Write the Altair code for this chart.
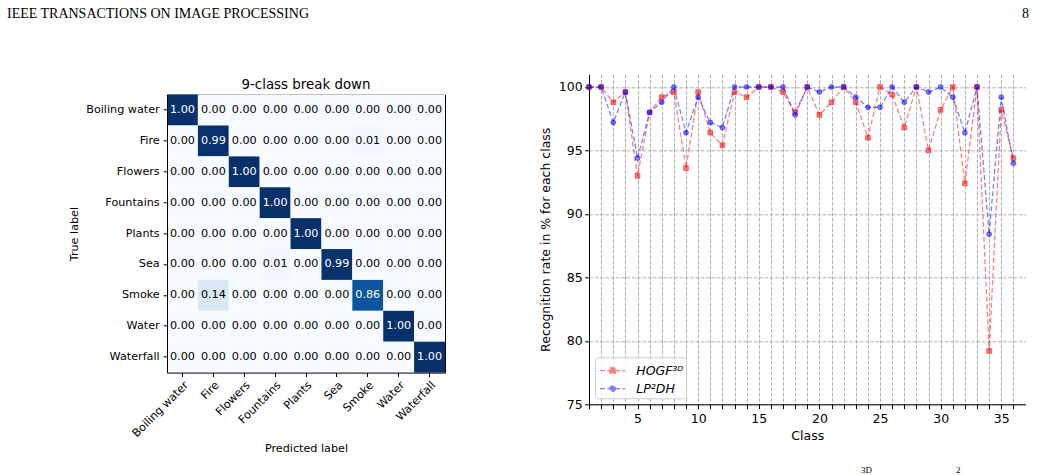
import altair as alt
import pandas as pd

# ---------------- data ----------------
classes = ["Boiling water", "Fire", "Flowers", "Fountains", "Plants",
           "Sea", "Smoke", "Water", "Waterfall"]
cm_boiling = [1.00, 0.00, 0.00, 0.00, 0.00, 0.00, 0.00, 0.00, 0.00]
cm_fire = [0.00, 0.99, 0.00, 0.00, 0.00, 0.00, 0.01, 0.00, 0.00]
cm_flowers = [0.00, 0.00, 1.00, 0.00, 0.00, 0.00, 0.00, 0.00, 0.00]
cm_fountains = [0.00, 0.00, 0.00, 1.00, 0.00, 0.00, 0.00, 0.00, 0.00]
cm_plants = [0.00, 0.00, 0.00, 0.00, 1.00, 0.00, 0.00, 0.00, 0.00]
cm_sea = [0.00, 0.00, 0.00, 0.01, 0.00, 0.99, 0.00, 0.00, 0.00]
cm_smoke = [0.00, 0.14, 0.00, 0.00, 0.00, 0.00, 0.86, 0.00, 0.00]
cm_water = [0.00, 0.00, 0.00, 0.00, 0.00, 0.00, 0.00, 1.00, 0.00]
cm_waterfall = [0.00, 0.00, 0.00, 0.00, 0.00, 0.00, 0.00, 0.00, 1.00]
cm_rows = [cm_boiling, cm_fire, cm_flowers, cm_fountains, cm_plants,
           cm_sea, cm_smoke, cm_water, cm_waterfall]

class_ids = list(range(1, 37))
hogf = [100, 100, 98.8, 99.6, 93.0, 98.0, 99.2, 99.6, 93.6, 99.6,
        96.4, 95.4, 99.6, 99.2, 100, 100, 99.6, 98.0, 100, 97.8,
        98.8, 100, 98.8, 96.0, 100, 99.4, 96.8, 100, 95.0, 98.2,
        100, 92.4, 100, 79.2, 98.2, 94.4]
lp2dh = [100, 100, 97.2, 99.6, 94.4, 98.0, 98.8, 100, 96.4, 99.2,
         97.2, 96.8, 100, 100, 100, 100, 100, 97.8, 100, 99.6,
         100, 100, 99.2, 98.4, 98.4, 100, 98.8, 100, 99.6, 100,
         99.2, 96.4, 100, 88.4, 99.2, 94.0]
series_names = ["HOGF\u00b3\u1d30", "LP\u00b2DH"]
x_ticks = list(range(1, 37))
y_ticks = [75, 80, 85, 90, 95, 100]

header_text = ["IEEE TRANSACTIONS ON IMAGE PROCESSING"]
page_number = ["8"]
heat_title = ["9-class break down"]
caption_bits = ["3D", "2"]

# ---------------- tables ----------------
cm_df = pd.DataFrame([
    {"true": classes[i], "pred": classes[j], "value": cm_rows[i][j]}
    for i in range(len(classes)) for j in range(len(classes))
])
line_df = pd.DataFrame({
    "cls": class_ids + class_ids,
    "rate": hogf + lp2dh,
    "series": [series_names[0]] * len(class_ids) + [series_names[1]] * len(class_ids),
})

FONT = "DejaVu Sans"
LS = 11.2   # left figure font size
RS = 12.5   # right figure font size

# ---------------- left: confusion matrix ----------------
heat_w = 278
heat_top = 20.3
heat_h = 298.3

xband = alt.Scale(paddingInner=0, paddingOuter=0)
yband = alt.Scale(paddingInner=0, paddingOuter=0, range=[heat_top, heat_h])

rect = alt.Chart(cm_df).mark_rect().encode(
    x=alt.X("pred:N", sort=classes, scale=xband,
            axis=alt.Axis(orient="bottom", title="Predicted label", labelAngle=-45,
                          labelAlign="right", labelBaseline="top", labelOverlap=False,
                          tickSize=3.9, labelPadding=2.5, labelFontSize=LS,
                          titleFontSize=LS, titleFontWeight="normal", titlePadding=4,
                          domainColor="black", tickColor="black", labelColor="black",
                          titleColor="black", grid=False)),
    y=alt.Y("true:N", sort=classes, scale=yband,
            axis=alt.Axis(orient="left", title="True label", tickSize=3.9,
                          labelPadding=3.9, labelFontSize=LS, titleFontSize=LS,
                          titleFontWeight="normal", titlePadding=6,
                          domainColor="black", tickColor="black", labelColor="black",
                          titleColor="black", grid=False)),
    fill=alt.Fill("value:Q", legend=None,
                  scale=alt.Scale(domain=[0, 0.01, 0.14, 0.86, 0.99, 1.0],
                                  range=["#f7fbff", "#f3f8fe", "#dae8f5", "#0b559f",
                                         "#08326e", "#08306b"])),
)

cell_text = alt.Chart(cm_df).mark_text(fontSize=LS, font=FONT).encode(
    x=alt.X("pred:N", sort=classes, scale=xband,
            axis=alt.Axis(orient="top", offset=-heat_top, labels=False, ticks=False,
                          title=None, domainColor="black", grid=False)),
    y=alt.Y("true:N", sort=classes, scale=yband,
            axis=alt.Axis(orient="right", labels=False, ticks=False, title=None,
                          domainColor="black", grid=False)),
    text=alt.Text("value:Q", format=".2f"),
    color=alt.condition(alt.datum.value > 0.5, alt.value("white"), alt.value("black")),
)

title_txt = alt.Chart(pd.DataFrame({"t": heat_title})).mark_text(
    fontSize=13.4, font=FONT, align="center", baseline="alphabetic", color="black"
).encode(x=alt.value(heat_w / 2), y=alt.value(14.3), text="t:N")

header_txt = alt.Chart(pd.DataFrame({"t": header_text})).mark_text(
    fontSize=14, font="Liberation Serif", align="left", baseline="alphabetic", color="black"
).encode(x=alt.value(-160), y=alt.value(-56.7), text="t:N")

left = alt.layer(rect, cell_text, title_txt, header_txt).resolve_axis(
    x="independent", y="independent"
).properties(width=heat_w, height=heat_h)

# ---------------- right: recognition rates ----------------
grid_style = dict(grid=True, gridDash=[3.7, 1.6], gridColor="#b0b0b0", gridWidth=1)
xq = alt.X("cls:Q", scale=alt.Scale(domain=[1, 37], nice=False, zero=False),
           axis=alt.Axis(values=x_ticks, title="Class",
                         labelExpr="datum.value % 5 === 0 ? datum.label : ''",
                         labelOverlap=False, labelFlush=False, tickSize=4.4,
                         labelPadding=4.3, labelFontSize=RS, titleFontSize=RS,
                         titleFontWeight="normal", titlePadding=4,
                         domainColor="black", tickColor="black", labelColor="black",
                         titleColor="black", **grid_style))
yq = alt.Y("rate:Q", scale=alt.Scale(domain=[75, 101], nice=False, zero=False),
           axis=alt.Axis(values=y_ticks, title="Recognition rate in % for each class",
                         labelOverlap=False, labelFlush=False, tickSize=4.4,
                         labelPadding=2.5, labelFontSize=RS, titleFontSize=RS,
                         titleFontWeight="normal", titlePadding=6,
                         domainColor="black", tickColor="black", labelColor="black",
                         titleColor="black", **grid_style))

base = alt.Chart(line_df)
red_f = alt.datum.series == series_names[0]
blue_f = alt.datum.series == series_names[1]

red_line = base.mark_line(color="#ff0000", opacity=0.5, strokeWidth=1.3,
                          strokeDash=[5, 2.5]).encode(x=xq, y=yq).transform_filter(red_f)
red_pts = base.mark_point(shape="square", filled=True, size=22, fill="#ff0000",
                          fillOpacity=0.5, stroke="#ff0000", strokeOpacity=0.5,
                          strokeWidth=1).encode(x=xq, y=yq).transform_filter(red_f)
blue_line = base.mark_line(color="#0000ff", opacity=0.5, strokeWidth=1.3,
                           strokeDash=[5, 2.5]).encode(x=xq, y=yq).transform_filter(blue_f)
blue_pts = base.mark_point(shape="circle", filled=True, size=24, fill="#0000ff",
                           fillOpacity=0.5, stroke="#0000ff", strokeOpacity=0.5,
                           strokeWidth=1).encode(x=xq, y=yq).transform_filter(blue_f)

sq_path = "M-0.83,0H1.67M0.165,-0.275H0.715V0.275H0.165Z"
ci_path = "M-0.83,0H1.67M0.715,0A0.275,0.275,0,1,1,0.165,0A0.275,0.275,0,1,1,0.715,0Z"
leg_props = dict(orient="bottom-left", offset=6, padding=2.3, rowPadding=-1.6,
                 symbolSize=400, symbolStrokeWidth=1.3, symbolDash=[5, 2.5],
                 symbolOpacity=0.5, labelFontSize=RS, labelFontStyle="italic",
                 labelFont=FONT, labelColor="black", labelOffset=17, title=None,
                 strokeColor="#cccccc", fillColor="rgba(255,255,255,0.8)",
                 cornerRadius=3)
legend_layer = alt.Chart(pd.DataFrame({"series": series_names})).mark_point(
    filled=True
).encode(
    fill=alt.Fill("series:N", scale=alt.Scale(domain=series_names, range=["#ff0000", "#0000ff"]),
                  legend=alt.Legend(**leg_props)),
    stroke=alt.Stroke("series:N", scale=alt.Scale(domain=series_names, range=["#ff0000", "#0000ff"]),
                      legend=alt.Legend(**leg_props)),
    shape=alt.Shape("series:N", scale=alt.Scale(domain=series_names, range=[sq_path, ci_path]),
                    legend=alt.Legend(**leg_props)),
).transform_filter("false")

page_txt = alt.Chart(pd.DataFrame({"t": page_number})).mark_text(
    fontSize=14, font="Liberation Serif", align="right", baseline="alphabetic", color="black"
).encode(x=alt.value(440), y=alt.value(-56.7), text="t:N")

cap_df = pd.DataFrame({"t": caption_bits, "px": [272, 367]})
cap_txt = alt.Chart(cap_df).mark_text(
    fontSize=9, font="Liberation Serif", align="left", baseline="alphabetic", color="black"
).encode(x=alt.X("px:Q", scale=None), y=alt.value(399), text="t:N")

right = alt.layer(red_line, red_pts, blue_line, blue_pts, legend_layer, page_txt, cap_txt
                  ).properties(width=436.5, height=330)

chart = alt.hconcat(left, right, spacing=94).resolve_scale(
    fill="independent", stroke="independent", shape="independent"
).resolve_legend(
    fill="independent", stroke="independent", shape="independent"
).properties(
    padding={"left": 7, "top": 6.3, "right": 5, "bottom": 0}
).configure(font=FONT).configure_view(strokeWidth=0)

chart.save("out.html", embed_options={"renderer": "svg", "actions": False})
